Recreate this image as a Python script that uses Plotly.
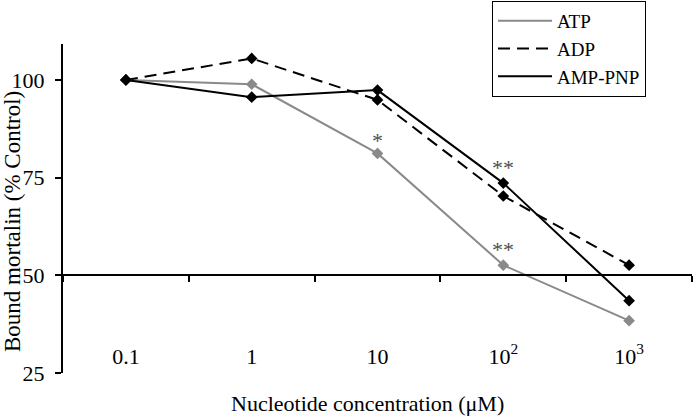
import plotly.graph_objects as go

categories = ["0.1", "1", "10", "10<sup>2</sup>", "10<sup>3</sup>"]
atp = [100, 98.9, 81.2, 52.6, 38.4]
adp = [100, 105.5, 94.9, 70.3, 52.6]
amp_pnp = [100, 95.6, 97.4, 73.6, 43.5]
y_ticks = [25, 50, 75, 100]

FONT = "Liberation Serif"
GRAY = "#8a8a8a"

series = [
    ("ATP", atp, dict(color=GRAY, width=2), GRAY),
    ("ADP", adp, dict(color="black", width=2, dash="12px,7px"), "black"),
    ("AMP-PNP", amp_pnp, dict(color="black", width=2), "black"),
]

fig = go.Figure()
for name, vals, line, mc in series:
    fig.add_trace(go.Scatter(x=categories, y=vals, mode="lines", name=name,
                             line=line, hoverinfo="skip"))
for name, vals, line, mc in series:
    fig.add_trace(go.Scatter(x=categories, y=vals, mode="markers", showlegend=False,
                             marker=dict(symbol="diamond", size=9, color=mc,
                                         line=dict(width=0))))

# significance marks: (category index, value, text, shift)
stars = [(2, atp[2], "*", 13), (3, atp[3], "**", 16), (3, amp_pnp[3], "**", 16)]
for ci, cy, txt, sh in stars:
    fig.add_annotation(x=ci, y=cy, text=txt, showarrow=False, yshift=sh,
                       font=dict(family=FONT, size=22, color="#4d4d4d"))

L, R, T, B = 63, 693 - 692, 44, 416 - 373
PW, PH = 693 - L - R, 416 - T - B

fig.add_annotation(text="Nucleotide concentration (μM)", xref="paper", yref="paper",
                   x=(367 - 63) / PW, y=(373 - 403) / PH, showarrow=False,
                   xanchor="center", yanchor="middle",
                   font=dict(family=FONT, size=22, color="black"))
fig.add_annotation(text="Bound mortalin (% Control)", xref="paper", yref="paper",
                   x=(12 - 63) / PW, y=(373 - 222) / PH, showarrow=False,
                   textangle=-90, xanchor="center", yanchor="middle",
                   font=dict(family=FONT, size=23, color="black"))

ymin, ymax = 25, 109.2
fig.update_layout(
    width=693, height=416,
    margin=dict(l=L, r=R, t=T, b=B, autoexpand=False),
    paper_bgcolor="white", plot_bgcolor="white",
    font=dict(family=FONT, size=22, color="black"),
    showlegend=True,
    legend=dict(x=(492 - 63) / PW, y=(373 - 1) / PH, xanchor="left", yanchor="top",
                bordercolor="black", borderwidth=1, bgcolor="white", itemwidth=54,
                font=dict(family=FONT, size=19, color="black")),
    xaxis=dict(type="category", categoryorder="array", categoryarray=categories,
               range=[-0.5, 4.5], anchor="free", position=(50 - ymin) / (ymax - ymin),
               showline=True, linecolor="black", linewidth=2,
               ticks="outside", tickson="boundaries", ticklen=6, tickwidth=1.5,
               tickcolor="black", showgrid=False, zeroline=False, automargin=False,
               ticklabelstandoff=61,
               tickfont=dict(family=FONT, size=22, color="black")),
    yaxis=dict(range=[ymin, ymax], tickvals=y_ticks, showline=True, linecolor="black",
               linewidth=2, ticks="outside", ticklen=6, tickwidth=1.5, tickcolor="black",
               showgrid=False, zeroline=False, automargin=False,
               ticklabelstandoff=6,
               tickfont=dict(family=FONT, size=22, color="black")),
)

fig.write_html("out.html", config={"displayModeBar": False},
               post_script="document.body.style.margin='0px';")
